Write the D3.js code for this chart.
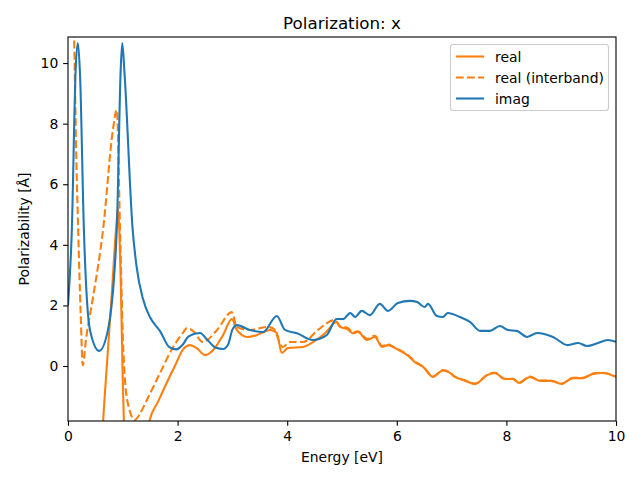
<!DOCTYPE html>
<html><head><meta charset="utf-8">
<script src="https://cdn.jsdelivr.net/npm/d3@7"></script>
<style>body{margin:0;background:#fff}svg{display:block}text{font-family:"DejaVu Sans",sans-serif}</style>
</head><body><svg id="c" width="640" height="480"></svg>
<script>
const xTicks=[0,2,4,6,8,10];
const yTicks=[0,2,4,6,8,10];
const seriesNames=["real","real (interband)","imag"];
const realE=[0,0.2,0.4,0.55,0.64,0.72,0.8,0.88,0.91,0.96,1.0,1.02,1.1,1.3,1.48,1.65,1.8,1.95,2.1,2.23,2.35,2.5,2.65,2.83,2.99,3.08,3.27,3.45,3.69,3.81,3.9,4.01,4.29,4.47,4.7,4.9,4.96,5.11,5.2,5.29,5.46,5.6,5.73,5.84,5.93,6.06,6.19,6.33,6.48,6.66,6.84,6.97,7.06,7.21,7.43,7.65,7.79,7.97,8.12,8.23,8.43,8.61,8.8,9.01,9.21,9.4,9.58,9.76,10];
const realV=[-60,-40,-15,-5,-1.85,0.3,2.4,4.6,5.2,3.0,-0.5,-1.85,-4,-4,-1.85,-1.15,-0.56,0.0,0.55,0.69,0.59,0.36,0.53,1.02,1.55,1.19,0.96,1.02,1.19,1.09,0.43,0.59,0.63,0.79,1.1,1.45,1.3,1.2,1.08,1.12,0.86,0.96,0.63,0.69,0.63,0.5,0.36,0.13,-0.03,-0.36,-0.15,-0.23,-0.36,-0.46,-0.59,-0.3,-0.23,-0.43,-0.43,-0.56,-0.36,-0.49,-0.49,-0.59,-0.4,-0.4,-0.26,-0.23,-0.36];
const interE=[0,0.08,0.11,0.15,0.19,0.23,0.27,0.33,0.46,0.64,0.82,0.89,0.95,1.0,1.08,1.22,1.32,1.44,1.68,1.92,2.1,2.17,2.28,2.46,2.72,2.99,3.08,3.32,3.63,3.74,3.92,4.05,4.29,4.56,4.87,4.96,5.11,5.2,5.29,5.46,5.6,5.73,5.84,5.93,6.06,6.19,6.33,6.48,6.66,6.84,6.97,7.06,7.21,7.43,7.65,7.79,7.97,8.12,8.23,8.43,8.61,8.8,9.01,9.21,9.4,9.58,9.76,10];
const interV=[14,12,10.9,7,4.2,1.8,0.03,0.9,2.3,4.5,7.8,8.45,4.5,1.0,-1.12,-1.78,-1.55,-1.12,-0.23,0.63,1.1,1.25,1.16,0.79,1.19,1.78,1.29,1.19,1.29,1.25,0.63,0.79,0.79,1.19,1.52,1.32,1.25,1.12,1.15,0.9,1.0,0.66,0.72,0.64,0.52,0.38,0.15,-0.02,-0.34,-0.13,-0.22,-0.35,-0.45,-0.58,-0.29,-0.22,-0.42,-0.42,-0.55,-0.35,-0.48,-0.48,-0.58,-0.39,-0.39,-0.25,-0.22,-0.35];
const imagE=[0,0.07,0.14,0.18,0.22,0.29,0.4,0.57,0.73,0.89,0.96,0.99,1.03,1.18,1.25,1.37,1.5,1.68,1.85,1.97,2.1,2.2,2.41,2.55,2.7,2.83,2.92,3.0,3.08,3.32,3.56,3.81,3.96,4.18,4.47,4.72,4.9,5.02,5.15,5.24,5.36,5.51,5.69,5.84,6.02,6.24,6.37,6.51,6.57,6.73,6.84,6.93,7.15,7.34,7.52,7.7,7.88,8.03,8.19,8.38,8.56,8.85,9.12,9.31,9.47,9.67,9.85,10];
const imagV=[2.0,4.5,9.8,10.66,9.6,4.5,1.2,0.5,1.2,4.5,9.7,10.66,9.7,4.5,3.3,2.2,1.6,1.15,0.62,0.55,0.72,0.98,1.09,0.85,0.6,0.56,0.7,1.2,1.35,1.19,1.12,1.65,1.19,1.08,0.86,1.02,1.55,1.55,1.75,1.62,1.82,1.68,2.05,1.82,2.08,2.15,2.11,1.95,2.05,1.65,1.62,1.75,1.62,1.45,1.16,1.16,1.32,1.19,1.16,0.96,1.09,0.96,0.69,0.76,0.66,0.76,0.86,0.8];

const svg=d3.select("#c");
const m={l:68,r:616,t:37,b:421};
const x=d3.scaleLinear().domain([0,10]).range([m.l,m.r]);
const y=d3.scaleLinear().domain([-1.815,10.86]).range([m.b,m.t]);
svg.append("defs").append("clipPath").attr("id","clip").append("rect")
  .attr("x",m.l).attr("y",m.t).attr("width",m.r-m.l).attr("height",m.b-m.t);
const line=d3.line().x(d=>x(d[0])).y(d=>y(d[1])).curve(d3.curveMonotoneX);
const g=svg.append("g").attr("clip-path","url(#clip)");
const LW=2.08, DASH="7.7,3.33";
g.append("path").datum(realE.map((e,i)=>[e,realV[i]])).attr("d",line)
  .attr("fill","none").attr("stroke","#ff7f0e").attr("stroke-width",LW);
g.append("path").datum(interE.map((e,i)=>[e,interV[i]])).attr("d",line)
  .attr("fill","none").attr("stroke","#ff7f0e").attr("stroke-width",LW).attr("stroke-dasharray",DASH);
g.append("path").datum(imagE.map((e,i)=>[e,imagV[i]])).attr("d",line)
  .attr("fill","none").attr("stroke","#1f77b4").attr("stroke-width",LW);

const xa=svg.append("g").attr("transform",`translate(0,${m.b})`)
  .call(d3.axisBottom(x).tickValues(xTicks).tickSize(4.86).tickPadding(4.86).tickFormat(d3.format("d")));
const ya=svg.append("g").attr("transform",`translate(${m.l},0)`)
  .call(d3.axisLeft(y).tickValues(yTicks).tickSize(4.86).tickPadding(4.86).tickFormat(d3.format("d")));
[xa,ya].forEach(a=>{a.select(".domain").remove();a.selectAll("text").attr("font-size",13.9).attr("fill","#000").attr("font-family","DejaVu Sans");a.selectAll("line").attr("stroke","#000").attr("stroke-width",1.1);});
svg.append("rect").attr("x",m.l).attr("y",m.t).attr("width",m.r-m.l).attr("height",m.b-m.t)
  .attr("fill","none").attr("stroke","#000").attr("stroke-width",1.1);

svg.append("text").attr("x",(m.l+m.r)/2).attr("y",29).attr("text-anchor","middle").attr("font-size",16.7).text("Polarization: x");
svg.append("text").attr("x",(m.l+m.r)/2).attr("y",462).attr("text-anchor","middle").attr("font-size",13.9).text("Energy [eV]");
svg.append("text").attr("transform",`translate(29,${(m.t+m.b)/2}) rotate(-90)`).attr("text-anchor","middle").attr("font-size",13.9).text("Polarizability [Å]");

const lg=svg.append("g");
lg.append("rect").attr("x",450.5).attr("y",44.5).attr("width",158).attr("height",66).attr("rx",2.8)
  .attr("fill","#fff").attr("fill-opacity",0.8).attr("stroke","#ccc").attr("stroke-width",1.1);
const styles=[{c:"#ff7f0e",d:null},{c:"#ff7f0e",d:DASH},{c:"#1f77b4",d:null}];
seriesNames.forEach((n,i)=>{
  const yy=56.5+i*21;
  lg.append("line").attr("x1",456).attr("x2",484).attr("y1",yy).attr("y2",yy)
    .attr("stroke",styles[i].c).attr("stroke-width",LW).attr("stroke-dasharray",styles[i].d);
  lg.append("text").attr("x",495).attr("y",yy+5).attr("font-size",13.9).text(n);
});
</script></body></html>
